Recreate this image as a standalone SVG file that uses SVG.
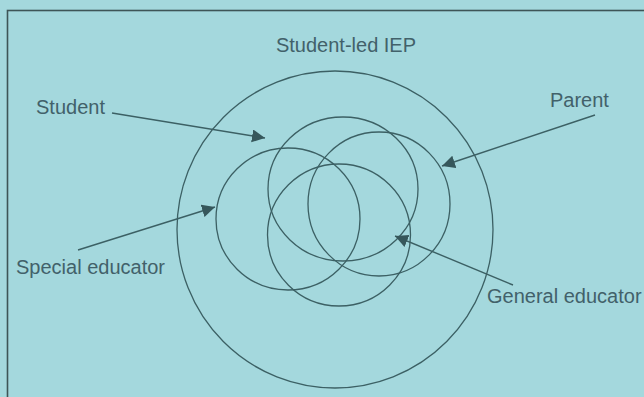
<svg xmlns="http://www.w3.org/2000/svg" width="644" height="397" viewBox="0 0 644 397">
<defs>
<style>
.bg{fill:#a4d8dd}
.frame{fill:none;stroke:#3e5557;stroke-width:1.6}
.ring{fill:none;stroke:#3c6064;stroke-width:1.3}
.conn{fill:none;stroke:#3c6064;stroke-width:1.4}
.lbl{font-family:"Liberation Sans",Arial,sans-serif;font-size:20px;fill:#42616a}
</style>
<marker id="ah" markerUnits="userSpaceOnUse" markerWidth="16" markerHeight="14" refX="13" refY="6.5" orient="auto">
<path d="M0,0 L13,6.5 L0,13 z" fill="#36575b"/>
</marker>
</defs>
<rect class="bg" x="0" y="0" width="644" height="397"/>
<rect class="frame" x="7.5" y="10.5" width="660" height="420"/>
<g id="iep">
<ellipse class="ring" cx="335" cy="229.5" rx="158" ry="158.5"/>
<text class="lbl" x="346" y="52" text-anchor="middle">Student-led IEP</text>
</g>
<g id="special-educator">
<ellipse class="ring" cx="288" cy="219" rx="72" ry="71"/>
<text class="lbl" x="16" y="274">Special educator</text>
</g>
<g id="student">
<ellipse class="ring" cx="343" cy="189" rx="75" ry="72"/>
<text class="lbl" x="36" y="114">Student</text>
</g>
<g id="parent">
<ellipse class="ring" cx="379" cy="204" rx="71" ry="72"/>
<text class="lbl" x="550" y="107">Parent</text>
</g>
<g id="general-educator">
<ellipse class="ring" cx="339" cy="235" rx="71.5" ry="71"/>
<text class="lbl" x="487" y="303">General educator</text>
</g>
<g id="connectors">
<line class="conn" x1="112" y1="113" x2="265" y2="138" marker-end="url(#ah)"/>
<line class="conn" x1="595" y1="115" x2="442" y2="166" marker-end="url(#ah)"/>
<line class="conn" x1="78" y1="250" x2="215" y2="207" marker-end="url(#ah)"/>
<line class="conn" x1="513" y1="285" x2="395" y2="236" marker-end="url(#ah)"/>
</g>
</svg>
